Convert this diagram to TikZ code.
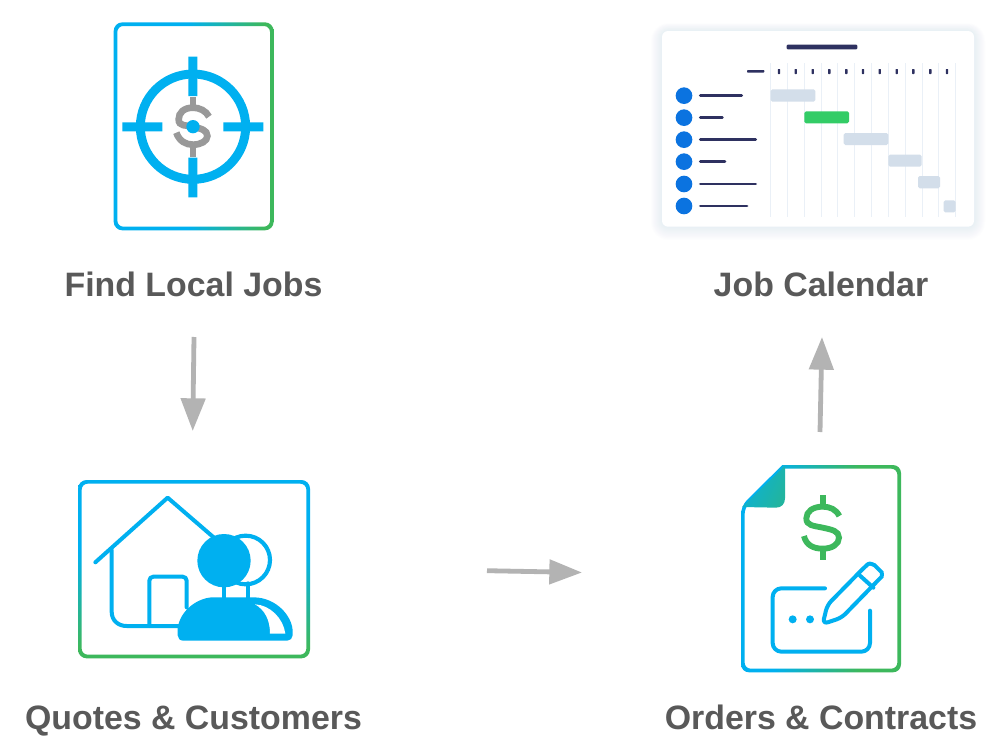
\documentclass[tikz,border=0pt]{standalone}
\usepackage{fontspec}
\setmainfont{Liberation Sans}
\usetikzlibrary{arrows.meta,calc}
\definecolor{cy}{HTML}{00B0F0}
\definecolor{gr}{HTML}{3DB85C}
\definecolor{txt}{HTML}{595959}
\definecolor{arr}{HTML}{B3B3B3}
\definecolor{navy}{HTML}{2E3160}
\definecolor{gridc}{HTML}{EAF0F7}
\definecolor{barc}{HTML}{D3DEEA}
\definecolor{dotc}{HTML}{0B73E0}
\definecolor{grn}{HTML}{33CC66}
\definecolor{shadowc}{HTML}{C8DCF5}
\pgfdeclarehorizontalshading{hgrad}{100bp}{color(0bp)=(cy); color(25bp)=(cy); color(48bp)=(cy); color(72bp)=(gr); color(100bp)=(gr)}
\pgfdeclareverticalshading{vgrad}{100bp}{color(0bp)=(gr); color(28bp)=(gr); color(55bp)=(cy); color(100bp)=(cy)}
\pgfdeclarehorizontalshading{cgrad}{100bp}{color(0bp)=(cy); color(25bp)=(cy); color(35bp)=(cy); color(62bp)=(gr); color(100bp)=(gr)}
\tikzset{
  lbl/.style={font=\bfseries\fontsize{25.4pt}{30pt}\selectfont,text=txt,inner sep=0pt,anchor=base},
  flow/.style={draw=arr,line width=3.6pt,-{Triangle[length=24.5pt,width=18pt]}},
  zoomed/.style={x=.25pt,y=-.25pt},
  bluestroke/.style={draw=cy,line width=3pt,line cap=round,line join=round},
  graybar/.style={fill=barc,rounded corners=1.2pt},
  navyline/.style={draw=navy,line width=2.1pt,line cap=round},
  gridline/.style={draw=gridc,line width=.75pt},
  tickm/.style={fill=navy,rounded corners=.4pt},
  rowdot/.style={fill=dotc},
}
\begin{document}
\begin{tikzpicture}[x=.75pt,y=-.75pt]
\useasboundingbox (0,0) rectangle (1000,753);
\fill[white] (0,0) rectangle (1000,753);
% labels
\node[lbl] (find) at (193.5,296.5) {Find Local Jobs};
\node[lbl] (cal) at (821,296.5) {Job Calendar};
\node[lbl] (quotes) at (193.5,729.5) {Quotes \& Customers};
\node[lbl] (orders) at (821,729.5) {Orders \& Contracts};
% arrows
\coordinate (a1s) at (194,337); \coordinate (a1e) at (192.7,431);
\coordinate (a2s) at (487,570.7); \coordinate (a2e) at (582,572.5);
\coordinate (a3s) at (820,432); \coordinate (a3e) at (822,337);
\draw[flow] (a1s) -- (a1e);
\draw[flow] (a2s) -- (a2e);
\draw[flow] (a3s) -- (a3e);
% Target icon
\begin{scope}[shift={(100,10)},zoomed]
\shade[shading=hgrad,even odd rule,rounded corners=6.5pt]
  (41,37) rectangle (521,661) [rounded corners=4.5pt] (52,48) rectangle (510,650);
\draw[draw=black!40,line width=5pt] (279,262) -- (279,295) (279,402) -- (279,440);
\draw[draw=black!40,line width=5pt,line cap=butt]
  (327,320) .. controls (318,302) and (298,293) .. (279,293)
  .. controls (252,293) and (236,308) .. (236,328)
  .. controls (236,350) and (258,345) .. (279,350)
  .. controls (303,356) and (322,360) .. (322,378)
  .. controls (322,393) and (303,404) .. (279,404)
  .. controls (258,404) and (238,394) .. (229,368);
\draw[cy,line width=6.7pt] (279,350) circle (158);
\fill[cy] (265,140) rectangle (292,258) (265,443) rectangle (292,562)
  (67,337) rectangle (187,364) (370,337) rectangle (490,364);
\fill[cy] (279,350) circle (20);
\end{scope}
% Gantt card
\begin{scope}[shift={(650,20)},zoomed]
\foreach \g in {3,6,...,33}{
  \fill[shadowc,opacity=.035,rounded corners=\g*.25pt+5pt] ($(36,33)+(-\g,-\g*.7)$) rectangle ($(972,620)+(\g,\g*1.2)$);
}
\fill[white,rounded corners=4.5pt] (36,33) rectangle (972,620);
\fill[navy,rounded corners=.8pt] (410,74) rectangle (622,88);
\fill[navy,rounded corners=.6pt] (291,150) rectangle (343,158);
\foreach \x in {362,412,462,514,563,614,665,714,767,817,866,917}
  \draw[gridline] (\x,130) -- (\x,592);
\foreach \x in {387,437,488,538,589,639,689,740,790,841,891}
  \fill[tickm] (\x-3.5,147) rectangle (\x+3.5,162);
\fill[graybar] (362,208) rectangle (496,245);
\fill[grn,rounded corners=1.2pt] (463,274) rectangle (597,310);
\fill[graybar] (581,339) rectangle (715,375);
\fill[graybar] (715,404) rectangle (815,440);
\fill[graybar] (804,468) rectangle (870,505);
\fill[graybar] (881,541) rectangle (917,577);
\foreach \y/\e in {227/275,293/217,359/317,425/225,492/317,558/291}{
  \fill[rowdot] (102,\y) circle (25);
  \draw[navyline] (151,\y) -- (\e,\y);
}
\end{scope}
% Quotes icon
\begin{scope}[shift={(70,470)},zoomed]
\shade[shading=vgrad,even odd rule,rounded corners=6.5pt]
  (24,30) rectangle (720,565) [rounded corners=4.5pt] (35,41) rectangle (709,554);
\begin{scope}[bluestroke]
\draw (76,277) -- (293,83) -- (432,203);
\draw (125,240) -- (125,425) .. controls (125,452) and (145,468) .. (170,468) -- (335,468);
\draw[rounded corners=3pt] (238,468) -- (238,320) -- (350,320) -- (350,412);
\draw (462,345) -- (462,390) (533,340) -- (533,390);
\end{scope}
\draw[cy,line width=3.1pt] (527,270) circle (73);
\fill[cy] (462,272) circle (80);
\fill[cy] (340,512) .. controls (330,512) and (323,505) .. (323,496) -- (323,475)
  .. controls (330,420) and (385,382) .. (430,382) -- (550,382)
  .. controls (620,382) and (668,440) .. (668,485) -- (668,496)
  .. controls (668,505) and (660,512) .. (652,512) -- cycle;
\fill[white] (555,403) .. controls (585,420) and (600,450) .. (600,491) -- (646,491)
  .. controls (640,445) and (600,405) .. (555,403) -- cycle;
\end{scope}
% Contract icon
\begin{scope}[shift={(730,455)},zoomed]
\shade[shading=cgrad,even odd rule]
  (157,30) [rounded corners=6pt] -- (513,30) -- (513,652) -- (33,652) -- (33,153) [sharp corners] -- cycle
  (163,41) [rounded corners=4.5pt] -- (502,41) -- (502,641) -- (44,641) -- (44,158) [sharp corners] -- cycle;
\shade[left color=cy!85!gr,right color=cy!45!gr,shading angle=65]
  (165,33) -- (36,156) -- (138,158) .. controls (155,158) and (165,146) .. (165,130) -- cycle;
\begin{scope}[draw=gr,line width=4.4pt,line cap=butt]
\draw (278,120) -- (278,160) (278,278) -- (278,315);
\draw (328,183) .. controls (318,163) and (300,155) .. (278,155)
  .. controls (248,155) and (229,170) .. (229,190)
  .. controls (229,212) and (250,212) .. (278,218)
  .. controls (306,224) and (327,228) .. (327,248)
  .. controls (327,268) and (306,281) .. (278,281)
  .. controls (250,281) and (228,270) .. (222,243);
\end{scope}
\begin{scope}[bluestroke]
\draw[rounded corners=6.5pt] (285,400) -- (128,400) -- (128,590) -- (420,590) -- (420,467);
\draw[rounded corners=4pt] (278,507) -- (292,450) -- (402,338) .. controls (420,322) and (435,332) .. (445,342) .. controls (455,352) and (455,365) .. (445,375) -- (335,488) -- cycle;
\draw (390,362) -- (430,398);
\end{scope}
\fill[cy] (188,493) circle (12) (240,493) circle (12);
\end{scope}
\end{tikzpicture}
\end{document}
